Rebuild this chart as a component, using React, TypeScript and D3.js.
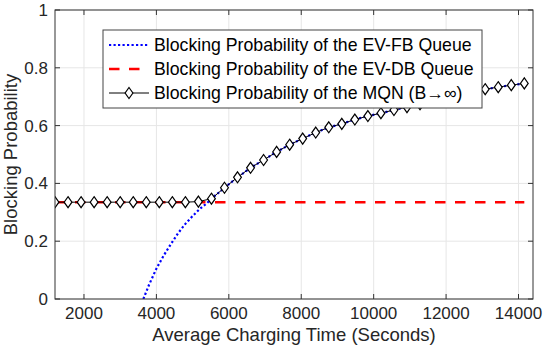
import React, { useEffect, useRef } from 'react'
import * as d3 from 'd3'

// average charging time (seconds) at each MQN marker
const mqnX = [
  1200, 1560, 1920, 2280, 2640, 3000, 3360, 3720, 4080, 4440, 4800, 5160, 5520,
  5880, 6240, 6600, 6960, 7320, 7680, 8040, 8400, 8760, 9120, 9480, 9840, 10200,
  10560, 10920, 11280, 11640, 12000, 12360, 12720, 13080, 13440, 13800, 14160,
]
const mqnY = [
  0.335, 0.335, 0.335, 0.335, 0.335, 0.335, 0.335, 0.335, 0.335, 0.335, 0.335, 0.337, 0.347,
  0.385, 0.421, 0.454, 0.481, 0.509, 0.534, 0.555, 0.576, 0.594, 0.606, 0.621, 0.633, 0.643,
  0.654, 0.664, 0.674, 0.684, 0.693, 0.702, 0.712, 0.726, 0.733, 0.740, 0.746,
]

// EV-FB queue
const fbX = [
  3640, 3800, 4000, 4200, 4400, 4600, 4800, 5000, 5200, 5400, 5520, 5880, 6240, 6600,
  6960, 7320, 7680, 8040, 8400, 8760, 9120, 9480, 9840, 10200, 10560, 10920, 11280,
  11640, 12000, 12360, 12720, 13080, 13440, 13800, 14160,
]
const fbY = [
  0, 0.05, 0.105, 0.15, 0.19, 0.228, 0.26, 0.287, 0.312, 0.332, 0.347, 0.385, 0.421, 0.454,
  0.481, 0.509, 0.534, 0.555, 0.576, 0.594, 0.606, 0.621, 0.633, 0.643, 0.654, 0.664, 0.674,
  0.684, 0.693, 0.702, 0.712, 0.726, 0.733, 0.740, 0.746,
]

// EV-DB queue
const dbX = [1200, 14160]
const dbY = [0.335, 0.335]

const xTicks = [2000, 4000, 6000, 8000, 10000, 12000, 14000]
const yTicks = [0, 0.2, 0.4, 0.6, 0.8, 1]

const legendLabels = [
  'Blocking Probability of the EV-FB Queue',
  'Blocking Probability of the EV-DB Queue',
  'Blocking Probability of the MQN (B\u2192\u221e)',
]

const FONT = '"Liberation Sans", Arial, Helvetica, sans-serif'

const App = () => {
  const svgRef = useRef(null)

  useEffect(() => {
    const svg = d3.select(svgRef.current)
    svg.selectAll('*').remove()
    const width = 545
    const height = 346
    const margin = { top: 10, right: 12, bottom: 47, left: 55 }
    const iw = width - margin.left - margin.right
    const ih = height - margin.top - margin.bottom

    const x = d3.scaleLinear().domain([1200, 14400]).range([margin.left, margin.left + iw])
    const y = d3.scaleLinear().domain([0, 1]).range([margin.top + ih, margin.top])

    svg.attr('width', width).attr('height', height).style('background', '#fff')

    // grid
    const grid = svg.append('g').attr('stroke', '#e6e6e6').attr('stroke-width', 1)
    xTicks.forEach((t) => {
      grid.append('line').attr('x1', x(t)).attr('x2', x(t)).attr('y1', y(0)).attr('y2', y(1))
    })
    yTicks.forEach((t) => {
      grid.append('line').attr('x1', x.range()[0]).attr('x2', x.range()[1]).attr('y1', y(t)).attr('y2', y(t))
    })

    const clip = svg.append('clipPath').attr('id', 'plotclip')
    clip.append('rect').attr('x', margin.left).attr('y', margin.top).attr('width', iw).attr('height', ih)

    const plot = svg.append('g').attr('clip-path', 'url(#plotclip)')
    const line = d3.line<[number, number]>().x((d) => x(d[0])).y((d) => y(d[1]))

    // EV-FB (blue dotted)
    plot
      .append('path')
      .attr('d', line(fbX.map((v, i) => [v, fbY[i]])))
      .attr('fill', 'none')
      .attr('stroke', '#0000ff')
      .attr('stroke-width', 2.2)
      .attr('stroke-dasharray', '2.2,2.3')

    // EV-DB (red dashed)
    plot
      .append('path')
      .attr('d', line(dbX.map((v, i) => [v, dbY[i]])))
      .attr('fill', 'none')
      .attr('stroke', '#ff0000')
      .attr('stroke-width', 2.6)
      .attr('stroke-dasharray', '10.5,9.5')

    // MQN (black line + diamonds)
    plot
      .append('path')
      .attr('d', line(mqnX.map((v, i) => [v, mqnY[i]])))
      .attr('fill', 'none')
      .attr('stroke', '#000')
      .attr('stroke-width', 1)

    const diamond = (cx, cy) =>
      `M${cx},${cy - 5.5}L${cx + 3.9},${cy}L${cx},${cy + 5.5}L${cx - 3.9},${cy}Z`

    plot
      .selectAll('path.mk')
      .data(mqnX)
      .enter()
      .append('path')
      .attr('class', 'mk')
      .attr('d', (d, i) => diamond(x(d), y(mqnY[i])))
      .attr('fill', '#fff')
      .attr('stroke', '#000')
      .attr('stroke-width', 1.2)

    // axes box and ticks
    const ax = svg.append('g').attr('stroke', '#333').attr('stroke-width', 1).attr('fill', 'none')
    ax.append('rect')
      .attr('x', margin.left)
      .attr('y', margin.top)
      .attr('width', iw)
      .attr('height', ih)
    xTicks.forEach((t) => {
      ax.append('line').attr('x1', x(t)).attr('x2', x(t)).attr('y1', y(0)).attr('y2', y(0) - 5)
      ax.append('line').attr('x1', x(t)).attr('x2', x(t)).attr('y1', y(1)).attr('y2', y(1) + 5)
    })
    yTicks.forEach((t) => {
      ax.append('line').attr('x1', x.range()[0]).attr('x2', x.range()[0] + 5).attr('y1', y(t)).attr('y2', y(t))
      ax.append('line').attr('x1', x.range()[1]).attr('x2', x.range()[1] - 5).attr('y1', y(t)).attr('y2', y(t))
    })

    const labels = svg.append('g').attr('font-family', FONT).attr('fill', '#262626')
    xTicks.forEach((t) => {
      labels
        .append('text')
        .attr('x', x(t))
        .attr('y', 319)
        .attr('text-anchor', 'middle')
        .attr('font-size', 17)
        .text(t)
    })
    yTicks.forEach((t) => {
      labels
        .append('text')
        .attr('x', 48)
        .attr('y', y(t))
        .attr('dy', '0.35em')
        .attr('text-anchor', 'end')
        .attr('font-size', 17)
        .text(t)
    })
    labels
      .append('text')
      .attr('x', x((1200 + 14400) / 2))
      .attr('y', 341)
      .attr('text-anchor', 'middle')
      .attr('font-size', 18.5)
      .text('Average Charging Time (Seconds)')
    labels
      .append('text')
      .attr('transform', `translate(16.5,${(y(0) + y(1)) / 2}) rotate(-90)`)
      .attr('text-anchor', 'middle')
      .attr('font-size', 18.5)
      .text('Blocking Probability')

    // legend
    const lg = svg.append('g').attr('transform', 'translate(103,30)')
    lg.append('rect')
      .attr('width', 379)
      .attr('height', 78)
      .attr('fill', '#fff')
      .attr('stroke', '#444')
      .attr('stroke-width', 1)
    const rowY = [15, 39, 63]
    const styles = [
      { stroke: '#0000ff', w: 2.2, dash: '2.2,2.3' },
      { stroke: '#ff0000', w: 2.6, dash: '10.5,9.5' },
      { stroke: '#000', w: 1, dash: null },
    ]
    legendLabels.forEach((lab, i) => {
      const s = styles[i]
      lg.append('line')
        .attr('x1', 6)
        .attr('x2', 46)
        .attr('y1', rowY[i])
        .attr('y2', rowY[i])
        .attr('stroke', s.stroke)
        .attr('stroke-width', s.w)
        .attr('stroke-dasharray', s.dash)
      if (i === 2) {
        lg.append('path').attr('d', diamond(26, rowY[i])).attr('fill', '#fff').attr('stroke', '#000').attr('stroke-width', 1.2)
      }
      lg.append('text')
        .attr('x', 51)
        .attr('y', rowY[i])
        .attr('dy', '0.35em')
        .attr('font-family', FONT)
        .attr('font-size', 17.7)
        .attr('fill', '#000')
        .text(lab)
    })
  }, [])

  return <svg ref={svgRef} style={{ position: 'absolute', left: 0, top: 0 }}></svg>
}

export default App
